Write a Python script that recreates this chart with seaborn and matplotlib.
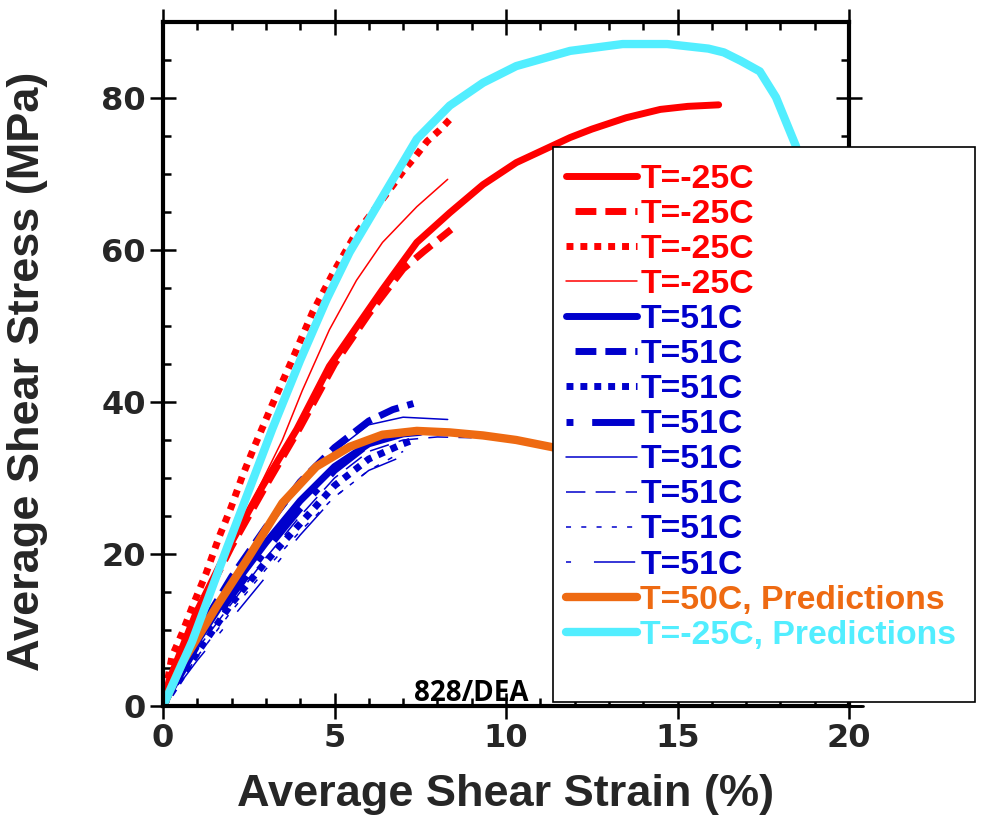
import matplotlib
matplotlib.use("Agg")
import matplotlib.pyplot as plt
import seaborn as sns
from matplotlib.patches import Rectangle

# ---------------- data ----------------
strain_r1 = [0, 0.18, 0.96, 1.93, 2.9, 3.9, 4.85, 5.8, 6.4, 7.4, 8.36, 9.33, 10.3, 11.87, 12.5, 13.5, 14.5, 15.3, 16.2]
stress_r1 = [0, 3.4, 12.2, 21, 28.9, 36.4, 44.7, 50.9, 54.8, 61, 64.9, 68.6, 71.5, 74.8, 75.9, 77.4, 78.5, 78.9, 79.1]

strain_r2 = [0, 1, 2, 3, 4, 5, 6, 7, 7.6, 8.4]
stress_r2 = [0, 12, 21, 29, 36.7, 45, 51.6, 57.5, 59.8, 62.7]

strain_r3 = [0, 0.26, 0.56, 0.85, 1.26, 1.64, 1.99, 2.31, 2.66, 3.19, 3.77, 4.36, 5.0, 5.6, 6.4, 6.75, 7.02, 7.34, 7.7, 8.07, 8.45]
stress_r3 = [0, 6.5, 9.6, 13, 17.5, 22.3, 26.2, 30.2, 34.1, 39.7, 45.6, 51.8, 57.3, 62.0, 66.7, 68.8, 70.5, 72.2, 74.3, 75.8, 77.6]

strain_r4 = [0, 0.5, 1.5, 2.5, 3.48, 4.06, 4.85, 5.64, 6.4, 7.4, 8.3]
stress_r4 = [0, 5.5, 16, 26, 35, 41.5, 49.5, 56, 61, 65.7, 69.3]

strain_b1 = [0, 1, 2, 3, 4, 5, 6, 7, 7.5]
stress_b1 = [0, 8.5, 15.5, 21.5, 27, 31.5, 34.5, 35.8, 36]
strain_b2 = [0, 1, 2, 3, 4, 5, 6, 6.7, 7.3]
stress_b2 = [0, 9.5, 17, 23.5, 29.5, 34, 37.5, 39, 39.8]
strain_b3 = [0, 1, 2, 3, 4, 5, 6, 7, 7.3]
stress_b3 = [0, 7, 13.5, 19, 24, 29, 32.5, 34.5, 35]
strain_b4 = [0, 1, 2, 3, 4, 5, 6, 6.5]
stress_b4 = [0, 8, 14.5, 20.5, 26, 31, 34.5, 35.5]
strain_b5 = [0, 1, 2, 3, 4, 5, 6, 7, 8.3]
stress_b5 = [0, 9, 16.5, 23, 29, 33.5, 37, 38, 37.7]
strain_b6 = [0, 1, 2, 3, 4, 5, 6, 7, 8, 9]
stress_b6 = [0, 7.5, 13.5, 19.5, 25, 30, 33.5, 35, 35.4, 35.3]
strain_b7 = [0, 1, 2, 3, 4, 5, 6, 7]
stress_b7 = [0, 6.5, 12.5, 18, 23, 27.5, 31, 33.5]
strain_b8 = [0, 1, 2, 3, 4, 5, 6, 6.8]
stress_b8 = [0, 6, 11.5, 17, 22.5, 27.5, 31, 32.5]

strain_orange = [0, 0.56, 1.55, 2.5, 3.48, 4.47, 5.44, 6.4, 7.4, 8.36, 9.33, 10.3, 11.3, 12.5]
stress_orange = [0, 5.7, 13, 19.6, 26.7, 31.5, 34.1, 35.7, 36.2, 36, 35.6, 35, 34.1, 33]

strain_cyan = [0, 0.85, 1.84, 3.19, 4.0, 4.77, 5.44, 6.4, 7.4, 8.36, 9.33, 10.3, 11.87, 13.4, 14.7, 15.9, 16.35, 16.84, 17.4, 17.87, 18.45, 18.9]
stress_cyan = [0, 8.5, 20.5, 36.5, 45.5, 53.5, 59.7, 67, 74.6, 79, 82, 84.2, 86.2, 87.1, 87.1, 86.5, 86, 84.9, 83.5, 80.1, 73.7, 67]

labels = ["T=-25C"] * 4 + ["T=51C"] * 8 + ["T=50C, Predictions", "T=-25C, Predictions"]
x_ticks = [0, 5, 10, 15, 20]
y_ticks = [0, 20, 40, 60, 80]

# ---------------- styles ----------------
RED = "#FF0000"
BLUE = "#0000CC"
ORANGE = "#EE6A12"
CYAN = "#52EEFF"

series = [
    (strain_r1, stress_r1, RED, 5.0, "-"),
    (strain_r2, stress_r2, RED, 5.0, (3, (3, 1.3))),
    (strain_r3, stress_r3, RED, 5.0, (0, (1, 1))),
    (strain_r4, stress_r4, RED, 1.1, "-"),
    (strain_b1, stress_b1, BLUE, 5.0, "-"),
    (strain_b2, stress_b2, BLUE, 5.0, (3, (3, 1.3))),
    (strain_b3, stress_b3, BLUE, 5.0, (0, (1, 1))),
    (strain_b4, stress_b4, BLUE, 5.0, (0, (1, 2.7, 6.1, 2.7))),
    (strain_b5, stress_b5, BLUE, 1.1, "-"),
    (strain_b6, stress_b6, BLUE, 1.1, (20, (13, 6.7))),
    (strain_b7, stress_b7, BLUE, 1.1, (0, (3.3, 6.7))),
    (strain_b8, stress_b8, BLUE, 1.1, (0, (3.3, 15, 27, 15))),
    (strain_orange, stress_orange, ORANGE, 6.0, "-"),
    (strain_cyan, stress_cyan, CYAN, 6.0, "-"),
]

sns.set_style("ticks")
plt.rcParams["font.family"] = ["Liberation Sans", "DejaVu Sans"]

fig = plt.figure(figsize=(9.81, 8.22), dpi=100)
ax = fig.add_axes([163 / 981, 1 - 706 / 822, (849 - 163) / 981, (706 - 22) / 822])

for (xs, ys, c, lw, ls), lab in zip(series, labels):
    sns.lineplot(x=xs, y=ys, ax=ax, color=c, linewidth=lw, linestyle=ls,
                 sort=False, estimator=None, label=lab)

ax.set_xlim(0, 20)
ax.set_ylim(0, 90)
ax.set_xticks(x_ticks)
ax.set_yticks(y_ticks)
ax.set_xticks(range(0, 21), minor=True)
ax.set_yticks(range(0, 91, 5), minor=True)

for sp in ax.spines.values():
    sp.set_linewidth(3)
    sp.set_color("black")

ax.tick_params(which="major", direction="inout", length=19, width=1.8,
               top=True, right=True, color="black", pad=3)
ax.tick_params(which="minor", direction="in", length=6, width=1.8,
               top=True, right=True, color="black")

tickfont = ["DejaVu Sans"]
for t in ax.get_xticklabels() + ax.get_yticklabels():
    t.set_family(tickfont)
    t.set_fontweight("bold")
    t.set_fontsize(23)

ax.set_xlabel("Average Shear Strain (%)", fontsize=32.5, fontweight="bold",
              labelpad=14)
ax.set_ylabel("Average Shear Stress (MPa)", fontsize=32.5, fontweight="bold")
ax.yaxis.set_label_coords(-0.168, 0.49)

# small extension of the bottom axis line
ax.axhline(0, xmin=0, xmax=1.02, color="black", lw=2, clip_on=False, zorder=1)

ax.text(471 / 981, 1 - 693 / 822, "828/DEA", transform=fig.transFigure,
        ha="center", va="center", fontsize=20, fontweight="bold",
        family=["Open Sans", "DejaVu Sans"], color="black", zorder=4)

# legend box
rect = Rectangle((553 / 981, 1 - 702 / 822), (975 - 553) / 981, (702 - 147) / 822,
                 transform=fig.transFigure, facecolor="white", edgecolor="black",
                 linewidth=1.2, clip_on=False, zorder=5)
ax.add_patch(rect)

leg = ax.legend(loc="upper left", bbox_to_anchor=(566 / 981, 1 - 164 / 822),
                bbox_transform=fig.transFigure, frameon=False,
                prop={"family": "Liberation Sans", "weight": "bold", "size": 24.3},
                handlelength=2.1, handletextpad=0.1, labelspacing=0.12,
                borderpad=0, borderaxespad=0)
leg.set_zorder(6)
for txt, (xs, ys, c, lw, ls) in zip(leg.get_texts(), series):
    txt.set_color(c)

fig.savefig("out.png", dpi=100)
